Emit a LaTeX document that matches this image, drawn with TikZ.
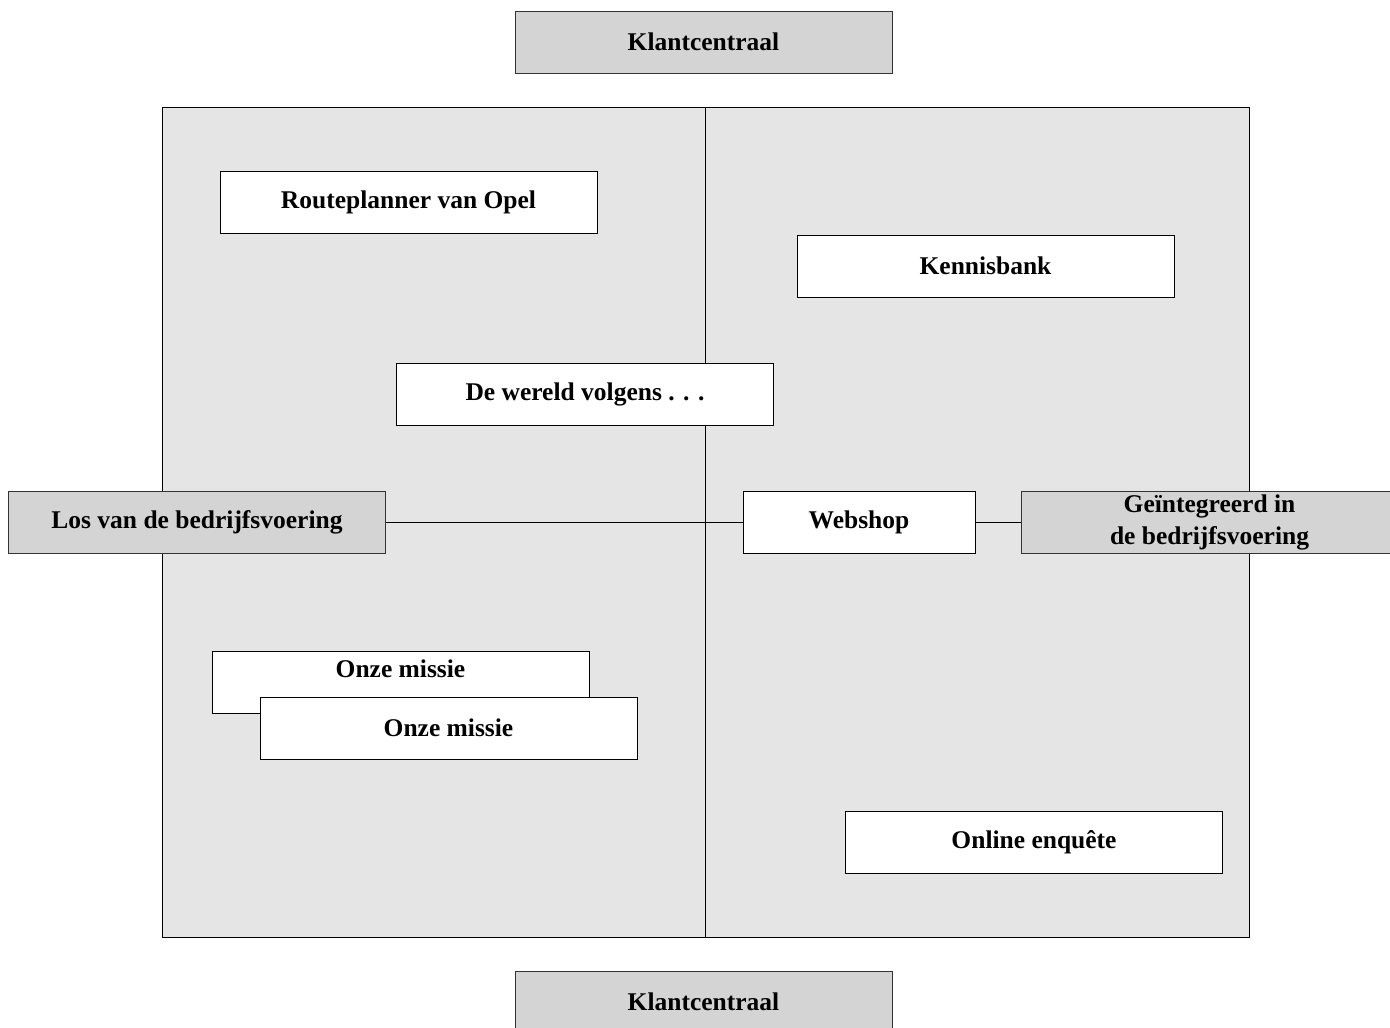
\documentclass[tikz,border=0pt]{standalone}
\usepackage{fontspec}
\setmainfont{Liberation Serif}
\begin{document}
\begin{tikzpicture}[x=1pt,y=-1pt,
  every node/.style={font=\fontsize{25.5}{32}\selectfont\bfseries},
  wbox/.style={draw=black,line width=1pt,fill=white,minimum width=377pt,minimum height=62pt,inner sep=0pt},
  gbox/.style={draw=black!80,line width=1pt,fill=black!17,minimum width=377pt,minimum height=62pt,inner sep=0pt,align=center},
  ln/.style={draw=black,line width=1pt}]
\useasboundingbox (0,0) rectangle (1390,1028);
% quadrant field
\node[draw=black,line width=1pt,fill=black!10,minimum width=1087pt,minimum height=830pt,inner sep=0pt] (quad) at (705.5,522) {};
\draw[ln] (quad.north) -- (quad.south);
% axis labels
\node[gbox] (top) at (703.5,42) {Klantcentraal};
\node[gbox] (bottom) at (703.5,1002) {Klantcentraal};
\node[gbox] (los) at (197,522) {Los van de bedrijfsvoering};
\node[gbox] (geint) at (1209.5,522) {Geïntegreerd in\\de bedrijfsvoering};
\draw[ln] (los.east) -- (geint.west);
% items
\node[wbox] (route) at (408.5,202) {Routeplanner van Opel};
\node[wbox] (kennis) at (985.5,266) {Kennisbank};
\node[wbox] (wereld) at (585,394) {De wereld volgens . . .};
\node[wbox,minimum width=232pt] (webshop) at (859,522) {Webshop};
\node[wbox] (missie1) at (400.5,682) {};
\node at ([yshift=13pt]missie1.center) (missie1txt) {Onze missie};
\node[wbox] (missie2) at (448.5,728) {Onze missie};
\node[wbox] (enquete) at (1034,842) {Online enquête};
\end{tikzpicture}
\end{document}
